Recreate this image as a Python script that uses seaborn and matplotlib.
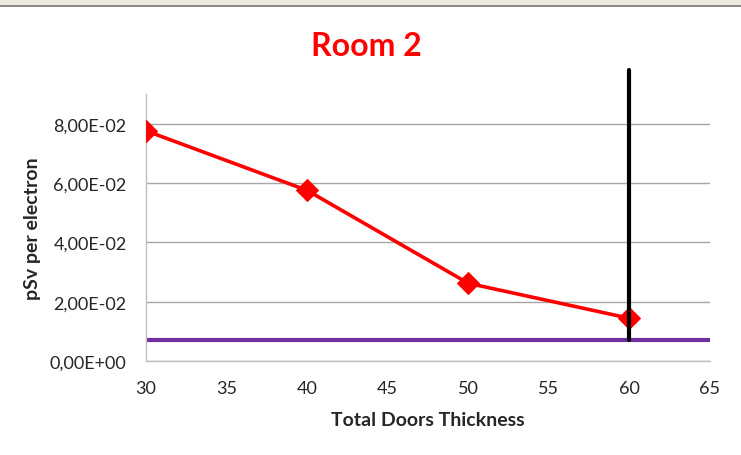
import matplotlib
matplotlib.use("Agg")
import matplotlib.pyplot as plt
from matplotlib.patches import Rectangle
from matplotlib.ticker import FixedLocator, FuncFormatter
import seaborn as sns
import pandas as pd

# Dose per electron versus total door thickness
thickness = [30, 40, 50, 60]
dose = [0.0776, 0.0575, 0.0262, 0.0144]

# Reference levels
limit_level = 0.007          # horizontal limit line
chosen_thickness = 60        # vertical marker line
marker_top = 0.098

x_ticks = [30, 35, 40, 45, 50, 55, 60, 65]
y_ticks = [0.0, 0.02, 0.04, 0.06, 0.08]

sns.set_style("white")
plt.rcParams["font.family"] = ["Lato", "DejaVu Sans"]

df = pd.DataFrame({"thickness": thickness, "dose": dose})

fig = plt.figure(figsize=(7.41, 4.56), dpi=100)
# window strip along the top edge
fig.patches.append(Rectangle((0, 1 - 6 / 456), 1, 6 / 456, transform=fig.transFigure,
                             facecolor="#ECE9DF", edgecolor="none", zorder=0))
fig.patches.append(Rectangle((0, 1 - 8 / 456), 1, 2 / 456, transform=fig.transFigure,
                             facecolor="#8C8C8C", edgecolor="none", zorder=0))

ax = fig.add_axes([146 / 741, 1 - 362 / 456, (710 - 146) / 741, (362 - 95) / 456])

ax.yaxis.grid(True, color="#A6A6A6", linewidth=1.0)
ax.set_axisbelow(True)

ax.axhline(limit_level, color="#7030A0", linewidth=3.0, zorder=2)

sns.lineplot(data=df, x="thickness", y="dose", ax=ax, color="#FF0000",
             linewidth=2.6, marker="D", markersize=11, markeredgecolor="#FF0000",
             zorder=3)

ax.plot([chosen_thickness, chosen_thickness], [limit_level, marker_top],
        color="black", linewidth=3.0, clip_on=False, zorder=4)

ax.set_xlim(30, 65)
ax.set_ylim(0, 0.09)
ax.xaxis.set_major_locator(FixedLocator(x_ticks))
ax.yaxis.set_major_locator(FixedLocator(y_ticks))
ax.yaxis.set_major_formatter(FuncFormatter(lambda v, p: ("%.2E" % v).replace(".", ",")))

for side in ["top", "right"]:
    ax.spines[side].set_visible(False)
for side in ["left", "bottom"]:
    ax.spines[side].set_color("#BFBFBF")
    ax.spines[side].set_linewidth(1.0)

ax.tick_params(axis="both", length=0, labelsize=13, colors="#262626")
ax.tick_params(axis="y", pad=14)
ax.tick_params(axis="x", pad=14)

ax.set_xlabel("Total Doors Thickness", fontsize=14, fontweight="bold", va="center")
ax.set_ylabel("pSv per electron", fontsize=14, fontweight="bold", va="center")
ax.xaxis.set_label_coords(0.5, (362 - 420) / 267)
ax.yaxis.set_label_coords((32 - 146) / 564, 0.5)

fig.text(366 / 741, 1 - 47 / 456, "Room 2", ha="center", va="center",
         fontsize=23, fontweight="bold", color="#FF0000")

fig.savefig("out.png", dpi=100)
